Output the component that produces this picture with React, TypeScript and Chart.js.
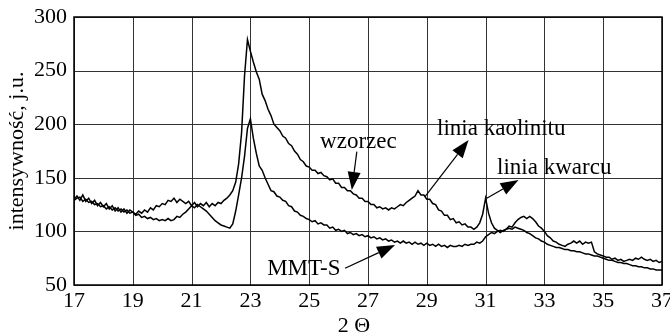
import { useEffect, useRef } from 'react';
import { Chart, registerables } from 'chart.js';

Chart.register(...registerables);

// Diffractogram sampled every 0.1° 2Θ, starting at 17°
const SCAN_START = 17;
const SCAN_STEP = 0.1;

const wzorzec = [
  130, 133, 129, 134, 128, 131, 126, 129, 124, 127,
  123, 126, 121, 124, 119, 122, 118, 121, 117, 120,
  118, 116, 119, 117, 120, 118, 122, 120, 124, 123,
  126, 125, 129, 128, 131, 127, 130, 128, 126, 128,
  124, 127, 123, 126, 124, 127, 123, 126, 124, 127,
  126, 129, 131, 134, 138, 146, 163, 192, 245, 279,
  268, 258, 249, 242, 228, 222, 214, 208, 200, 197,
  194, 189, 187, 182, 180, 175, 172, 167, 165, 161,
  160, 157, 157, 154, 155, 152, 151, 148, 149, 145,
  145, 141, 141, 138, 138, 135, 134, 131, 131, 128,
  128, 125, 125, 122, 123, 121, 122, 120, 122, 121,
  123, 125, 124, 127, 129, 131, 133, 138, 134, 134,
  130, 130, 126, 125, 120, 119, 115, 115, 111, 112,
  108, 109, 106, 107, 104, 104, 102, 104, 108, 116,
  131, 117, 108, 103, 101, 99, 101, 102, 105, 104,
  108, 111, 113, 114, 112, 114, 112, 109, 105, 103,
  100, 96, 94, 91, 90, 88, 87, 86, 88, 89,
  91, 89, 91, 88, 90, 89, 90, 81, 79, 78,
  77, 76, 76, 74, 75, 73, 74, 72, 73, 74,
  73, 75, 74, 76, 74, 73, 74, 72, 73, 71,
  72,
];

const mmtS = [
  129, 131, 132, 128, 130, 127, 128, 125, 126, 123,
  124, 121, 123, 120, 122, 119, 121, 118, 120, 117,
  118, 115, 116, 113, 114, 112, 113, 111, 112, 110,
  111, 110, 112, 110, 111, 114, 113, 116, 118, 121,
  124, 122, 125, 123, 121, 119, 116, 113, 110, 108,
  106, 105, 104, 103, 107, 119, 134, 150, 170, 196,
  205, 187, 173, 161, 157, 150, 144, 138, 137, 133,
  132, 129, 128, 124, 123, 119, 118, 115, 114, 112,
  111, 109, 110, 107, 108, 106, 106, 103, 104, 101,
  102, 100, 101, 98, 99, 97, 98, 96, 97, 95,
  96, 94, 95, 93, 94, 92, 93, 91, 92, 90,
  91, 89, 91, 89, 90, 88, 90, 88, 89, 87,
  89, 87, 88, 86, 88, 86, 87, 85, 87, 86,
  86, 87, 86, 88, 87, 88, 88, 90, 89, 91,
  95, 97, 99, 98, 100, 101, 100, 102, 103, 102,
  104, 103, 102, 101, 99, 98, 96, 94, 93, 91,
  90, 88, 87, 86, 85, 85, 84, 83, 83, 82,
  82, 81, 81, 80, 79, 79, 78, 77, 77, 76,
  75, 74, 73, 73, 72, 71, 71, 70, 70, 69,
  68, 68, 67, 67, 66, 66, 65, 65, 64, 64,
  64,
];

const xTicks = [17, 19, 21, 23, 25, 27, 29, 31, 33, 35, 37];
const yTicks = [50, 100, 150, 200, 250, 300];

// Callout texts, anchored (left, middle) in data coordinates
const calloutTexts = [
  { text: 'wzorzec', x: 25.37, y: 183 },
  { text: 'linia kaolinitu', x: 29.35, y: 195.5 },
  { text: 'linia kwarcu', x: 31.39, y: 159 },
  { text: 'MMT-S', x: 23.57, y: 65 },
];

// Callout arrows: from tail to arrow tip, in data coordinates
const calloutArrows = [
  { from: [26.62, 174.4], to: [26.45, 138.6] },
  { from: [28.94, 132.4], to: [30.42, 185.2] },
  { from: [31.04, 131], to: [32.12, 148] },
  { from: [26.22, 65.6], to: [27.92, 87.3] },
];

const FONT = "'Liberation Serif', 'Times New Roman', serif";

const toPoints = (values: number[]) =>
  values.map((v, i) => ({ x: +(SCAN_START + i * SCAN_STEP).toFixed(2), y: v }));

// Grid and frame of the plot area, drawn under the curves
const gridPlugin = {
  id: 'plotGrid',
  beforeDatasetsDraw(chart: any) {
    const { ctx, chartArea, scales } = chart;
    const { left, right, top, bottom } = chartArea;
    ctx.save();
    ctx.strokeStyle = '#333';
    ctx.lineWidth = 1;
    ctx.beginPath();
    for (const v of xTicks) {
      const px = Math.round(scales.x.getPixelForValue(v)) + 0.5;
      ctx.moveTo(px, top);
      ctx.lineTo(px, bottom);
    }
    for (const v of yTicks) {
      const py = Math.round(scales.y.getPixelForValue(v)) + 0.5;
      ctx.moveTo(left, py);
      ctx.lineTo(right, py);
    }
    ctx.stroke();
    ctx.strokeStyle = '#000';
    ctx.lineWidth = 1.5;
    ctx.strokeRect(left, top, right - left, bottom - top);
    ctx.restore();
  },
};

const calloutPlugin = {
  id: 'callouts',
  afterDatasetsDraw(chart: any) {
    const { ctx, scales, chartArea } = chart;
    const xs = scales.x;
    const ys = scales.y;
    ctx.save();
    ctx.fillStyle = '#000';
    ctx.strokeStyle = '#000';
    ctx.lineWidth = 1.2;
    for (const a of calloutArrows) {
      const x0 = xs.getPixelForValue(a.from[0]);
      const y0 = ys.getPixelForValue(a.from[1]);
      const x1 = xs.getPixelForValue(a.to[0]);
      const y1 = ys.getPixelForValue(a.to[1]);
      const ang = Math.atan2(y1 - y0, x1 - x0);
      const len = 18;
      const half = 6.5;
      const c = Math.cos(ang);
      const s = Math.sin(ang);
      const bx = x1 - len * c;
      const by = y1 - len * s;
      ctx.beginPath();
      ctx.moveTo(x0, y0);
      ctx.lineTo(bx, by);
      ctx.stroke();
      ctx.beginPath();
      ctx.moveTo(x1, y1);
      ctx.lineTo(bx + half * s, by - half * c);
      ctx.lineTo(bx - half * s, by + half * c);
      ctx.closePath();
      ctx.fill();
    }
    ctx.font = `23px ${FONT}`;
    ctx.textAlign = 'left';
    ctx.textBaseline = 'middle';
    for (const t of calloutTexts) {
      ctx.fillText(t.text, xs.getPixelForValue(t.x), ys.getPixelForValue(t.y));
    }
    // x-axis title
    ctx.font = `22px ${FONT}`;
    ctx.textAlign = 'center';
    ctx.fillText('2 Θ', (chartArea.left + chartArea.right) / 2 - 14, chart.height - 10);
    ctx.restore();
  },
};

export default function App() {
  const canvasRef = useRef<HTMLCanvasElement | null>(null);

  useEffect(() => {
    if (!canvasRef.current) return;
    const lineStyle = {
      borderColor: '#000',
      borderWidth: 1.5,
      pointRadius: 0,
      fill: false,
      tension: 0,
    };
    const chart = new Chart(canvasRef.current, {
      type: 'line',
      data: {
        datasets: [
          { label: 'wzorzec', data: toPoints(wzorzec), ...lineStyle },
          { label: 'MMT-S', data: toPoints(mmtS), ...lineStyle },
        ],
      },
      options: {
        responsive: false,
        animation: false,
        layout: { padding: { top: 17, right: 8, left: 0, bottom: 0 } },
        plugins: {
          legend: { display: false },
          tooltip: { enabled: false },
        },
        scales: {
          x: {
            type: 'linear',
            min: 17,
            max: 37,
            afterBuildTicks: (scale: any) => {
              scale.ticks = xTicks.map((v) => ({ value: v }));
            },
            afterFit: (scale: any) => {
              scale.height = 51;
              scale.paddingLeft = 0;
              scale.paddingRight = 0;
            },
            grid: { display: false, drawTicks: false },
            border: { display: false },
            ticks: {
              padding: 3,
              color: '#000',
              font: { family: FONT, size: 22 },
              maxRotation: 0,
              autoSkip: false,
            },
          },
          y: {
            type: 'linear',
            min: 50,
            max: 300,
            afterBuildTicks: (scale: any) => {
              scale.ticks = yTicks.map((v) => ({ value: v }));
            },
            afterFit: (scale: any) => {
              scale.width = 74;
              scale.paddingTop = 0;
              scale.paddingBottom = 0;
            },
            grid: { display: false, drawTicks: false },
            border: { display: false },
            ticks: {
              padding: 7,
              color: '#000',
              font: { family: FONT, size: 22 },
            },
            title: {
              display: true,
              text: 'intensywność, j.u.',
              color: '#000',
              font: { family: FONT, size: 22, lineHeight: 1.1 },
              padding: { top: 5, bottom: 0 },
            },
          },
        },
      },
      plugins: [gridPlugin, calloutPlugin],
    });
    return () => chart.destroy();
  }, []);

  return (
    <div style={{ position: 'absolute', left: 0, top: 0, width: 670, height: 336, background: '#fff' }}>
      <canvas ref={canvasRef} width={670} height={336} style={{ display: 'block' }} />
    </div>
  );
}
